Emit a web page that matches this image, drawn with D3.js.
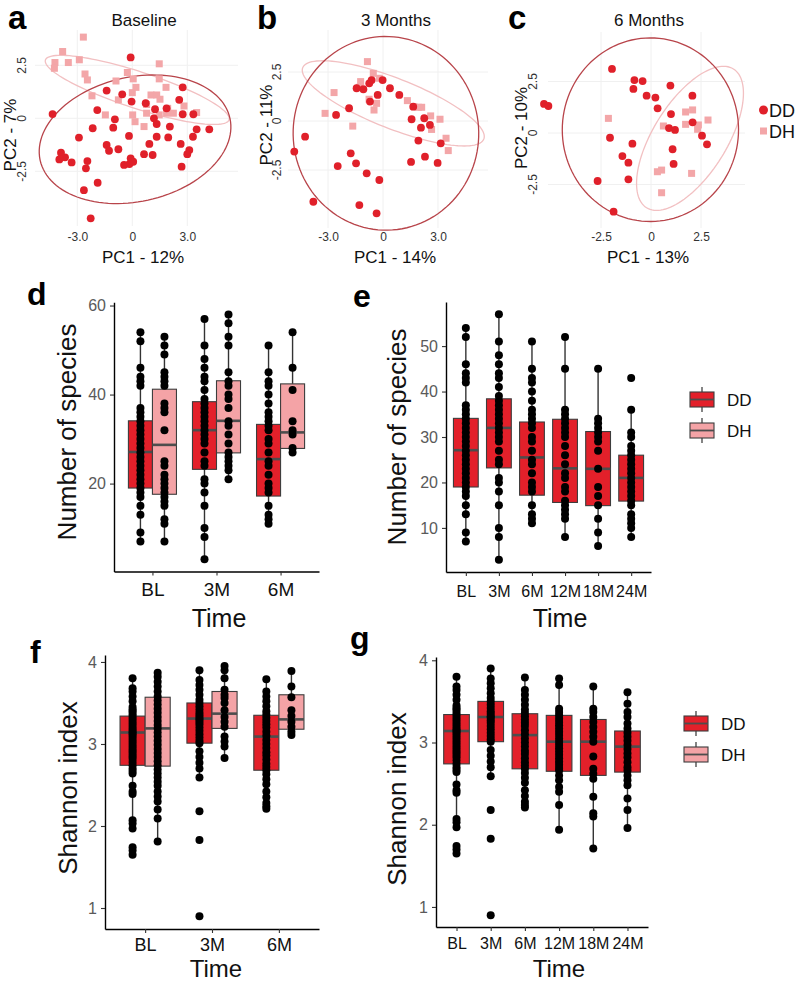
<!DOCTYPE html>
<html><head><meta charset="utf-8">
<script src="https://cdn.jsdelivr.net/npm/d3@7"></script>
<style>body{margin:0;background:#fff}svg{display:block}text{font-family:"Liberation Sans",Arial,Helvetica,sans-serif}</style>
</head><body><svg id="chart" width="800" height="983"></svg>
<script>
// ---------------- DATA ----------------
// PCA scores [PC1, PC2]
const pcaA_DD = [[-0.09,2.87],[-1.40,1.31],[-0.55,1.13],[-0.04,0.79],[0.73,0.71],[1.24,0.43],[1.87,0.47],[2.75,1.46],[2.56,0.87],[2.75,0.19],[3.33,0.19],[-4.35,0.20],[-1.91,0.39],[-0.95,-0.05],[1.18,0.0],[1.33,-0.27],[2.05,-0.39],[3.51,-0.52],[4.20,-0.52],[3.31,-0.87],[2.64,-1.21],[3.11,-1.50],[3.0,-1.69],[2.69,-2.28],[1.96,-0.90],[1.33,-0.87],[0.93,-1.21],[1.11,-1.73],[0.64,-1.69],[-0.18,-0.83],[-1.04,-0.44],[-2.16,-0.47],[-2.91,-0.91],[-1.40,-1.26],[-1.27,-1.53],[-0.76,-1.46],[-0.09,-1.89],[0.05,-2.05],[-0.16,-2.16],[-0.45,-2.20],[-2.45,-2.02],[-2.53,-2.36],[-3.31,-2.08],[-3.67,-1.84],[-3.89,-1.62],[-3.98,-1.94],[-1.89,-3.04],[-2.64,-3.39],[-2.27,-4.72]];
const pcaA_DH = [[-2.67,3.83],[-3.80,3.15],[-4.22,2.63],[-4.25,2.36],[-3.49,2.63],[-2.89,2.76],[-2.58,2.09],[-2.45,1.81],[-0.89,1.76],[-0.27,2.16],[0.05,1.86],[1.47,2.57],[1.47,1.86],[0.20,1.46],[0.0,1.21],[-2.2,1.06],[-0.76,0.87],[1.84,1.46],[1.02,1.10],[1.33,1.10],[1.51,0.90],[0.78,0.65],[1.93,0.47],[2.24,0.24],[2.82,0.58],[3.51,0.27],[0.78,0.24],[0.02,0.16],[0.15,-0.16],[0.64,-0.39],[1.47,0.16],[-1.47,0.16],[1.87,0.24]];
const pcaB_DD = [[-1.44,1.67],[-1.07,1.62],[-0.75,1.92],[-0.62,2.09],[-0.02,2.09],[-0.29,1.33],[-0.71,0.99],[0.38,1.67],[0.89,1.33],[1.65,0.73],[1.56,0.09],[2.25,0.14],[2.07,-0.34],[2.56,-0.20],[1.93,-1.0],[3.15,-1.14],[2.29,-1.82],[1.53,-2.09],[2.98,-2.14],[-1.85,0.65],[-2.56,0.31],[-4.25,-0.80],[-4.84,-1.56],[-1.76,-1.65],[-1.47,-2.16],[-2.47,-2.30],[-0.89,-2.67],[-0.2,-3.01],[-3.80,-4.12],[-1.29,-4.29],[-0.35,-4.71]];
const pcaB_DH = [[-0.85,3.03],[-0.53,2.43],[-0.2,2.18],[-1.22,2.01],[-1.29,1.72],[-2.67,1.45],[-0.76,1.11],[-0.35,0.90],[-0.49,0.56],[1.33,1.04],[1.69,0.73],[1.93,0.70],[2.11,0.70],[2.6,0.26],[3.11,0.09],[2.65,-0.43],[-3.16,0.39],[-1.65,-0.26],[3.44,-0.88],[3.56,-1.51]];
const pcaC_DD = [[-5.35,1.41],[-5.13,1.31],[-1.95,3.11],[-0.83,2.57],[-0.42,2.52],[-0.88,2.14],[-0.22,1.81],[0.22,1.72],[0.33,1.20],[0.97,2.30],[2.07,1.81],[1.0,0.92],[2.08,0.52],[0.9,0.24],[1.2,0.15],[2.55,-0.13],[2.8,-0.55],[1.08,-0.79],[1.13,-1.50],[-2.05,-0.23],[-0.93,-0.52],[-1.43,-1.12],[-1.13,-1.44],[-1.13,-2.25],[-2.67,-2.33],[-1.87,-3.82]];
const pcaC_DH = [[-2.13,0.71],[0.62,0.34],[1.73,1.02],[2.08,1.12],[1.73,0.42],[2.37,0.39],[2.33,0.18],[2.85,0.63],[0.32,-1.88],[0.53,-1.80],[2.03,-1.96],[0.53,-2.90]];
// 95% ellipses: [centerX, centerY, axis1X, axis1Y, axis2X, axis2Y] in PC units
const ellA_DD = [0.15,-0.99,5.18,0.98,0.71,-2.87];
const ellA_DH = [0.27,1.34,5.01,-1.41,-0.31,-0.82];
const ellB_DD = [0.16,-0.63,5.05,0.34,0.36,-4.93];
const ellB_DH = [0.56,0.90,4.94,-1.82,-0.5,-1.19];
const ellC_DD = [-0.03,0.16,4.38,0.49,0.48,-4.43];
const ellC_DH = [1.95,-0.26,2.17,3.37,1.56,-0.94];
const pcaTicksAB = [-3,0,3], pcaLabelsAB = ["-3.0","0","3.0"];
const pcaTicksC = [-2.5,0,2.5], pcaLabelsC = ["-2.5","0","2.5"];
const pcaTicksY = [-2.5,0,2.5], pcaLabelsY = ["-2.5","0","2.5"];

const timesShort = ["BL","3M","6M"];
const timesLong = ["BL","3M","6M","12M","18M","24M"];
const groups = ["DD","DH"];

// Number of species
const speciesDD = [
 [54,52,46,44,43,42,37,36,35,34,33,32,31,30,29,28,27,26,25,24,23,22,21,20,19,18,17,15,13,9,7],
 [57,51,48,46,44,43,41,39,38,37,36,35,34,33,32,31,30,29,27,25,24,21,20,18,15,10,8,3],
 [51,45,43,42,40,38,36,35,34,33,32,30,29,27,25,24,22,20,19,18,15,13,12,11],
 [52,45,36,35,34,33,32,31,30,28,26,24,22,21,19,18,16,15,14,13,12,8],
 [45,34,33,32,31,30,29,27,23,19,17,15,12,9,6],
 [43,36,31,30,28,27,26,25,24,23,22,21,20,19,18,17,16,15,13,12,11,10,8]
];
const speciesDH = [
 [53,51,49,45,44,43,42,38,37,36,32,25,24,22,21,20,19,18,17,16,15,12,11,7],
 [58,56,53,51,45,43,42,40,39,37,34,33,31,29,27,26,25,24,23,21],
 [54,46,41,34,32,31,28,27]
];
// box stats: [lower whisker, Q1, median, Q3, upper whisker]
const speciesDDStats = [[7,19.0,27.1,34.1,54],[3,23.2,32.0,38.4,57],[11,17.2,25.5,33.3,51],[8,15.6,23.1,33.9,52],[6,14.9,23.0,31.2,45],[8,15.9,21.0,26.0,36]];
const speciesDHStats = [[7,17.6,28.7,41.2,53],[21,26.9,34.1,43.1,58],[27,27.9,31.5,42.4,54]];

// Shannon index
const shannonDD = [
 [3.80,3.68,3.64,3.58,3.52,3.45,3.42,3.40,3.37,3.34,3.31,3.28,3.25,3.22,3.19,3.16,3.14,3.12,3.09,3.06,3.03,3.00,2.97,2.94,2.91,2.88,2.85,2.82,2.78,2.74,2.70,2.67,2.64,2.49,2.42,2.39,2.07,2.03,1.97,1.74,1.70,1.65],
 [3.90,3.78,3.72,3.66,3.60,3.54,3.50,3.46,3.42,3.38,3.35,3.32,3.30,3.27,3.24,3.20,3.16,3.12,3.08,3.04,3.01,2.91,2.84,2.77,2.70,2.59,2.18,1.83,0.90],
 [3.79,3.64,3.58,3.52,3.46,3.40,3.36,3.32,3.28,3.24,3.20,3.15,3.10,3.05,3.00,2.95,2.90,2.86,2.81,2.76,2.72,2.68,2.63,2.57,2.51,2.42,2.35,2.28,2.24,2.21],
 [3.78,3.70,3.41,3.37,3.33,3.29,3.25,3.21,3.17,3.13,3.09,3.05,3.01,2.97,2.93,2.89,2.85,2.81,2.77,2.73,2.69,2.66,2.60,2.54,2.46,2.40,2.24,1.94],
 [3.68,3.41,3.37,3.31,3.25,3.19,3.13,3.07,3.01,2.83,2.68,2.62,2.56,2.34,2.14,2.10,1.71],
 [3.61,3.47,3.37,3.31,3.23,3.17,3.12,3.07,3.02,2.97,2.92,2.87,2.82,2.76,2.70,2.66,2.60,2.54,2.48,2.32,2.18,1.96]
];
const shannonDH = [
 [3.87,3.82,3.76,3.70,3.64,3.58,3.53,3.48,3.43,3.38,3.33,3.28,3.23,3.19,3.14,3.09,3.04,2.99,2.94,2.89,2.84,2.79,2.74,2.69,2.64,2.59,2.54,2.49,2.42,2.36,2.30,2.20,2.09,1.81],
 [3.95,3.90,3.80,3.66,3.60,3.56,3.50,3.41,3.33,3.27,3.21,3.09,3.03,2.97,2.83],
 [3.89,3.70,3.57,3.41,3.34,3.27,3.21,3.15,3.11]
];
const shannonDDStats = [[1.97,2.74,3.14,3.34,3.80],[2.59,3.01,3.31,3.50,3.90],[2.21,2.68,3.09,3.35,3.79],[1.94,2.65,3.01,3.33,3.78],[1.71,2.60,3.01,3.28,3.68],[1.96,2.64,2.95,3.14,3.61]];
const shannonDHStats = [[1.81,2.73,3.19,3.57,3.87],[2.83,3.19,3.37,3.64,3.95],[3.11,3.18,3.30,3.60,3.89]];

// ---------------- STYLE ----------------
const RED = "#e3202a", PINK = "#f4a3a6";
const PT_DD = "#e0202a", PT_DH = "#f3a6a8";
const ELL_DD = "#b8444a", ELL_DH = "#f2c0c2";

const svg = d3.select("#chart");

function letter(t, x, y, size) {
  svg.append("text").attr("x", x).attr("y", y).attr("font-size", size).attr("font-weight", "bold").attr("fill", "#000").text(t);
}

function ellipsePath(e, x, y) {
  const [cx, cy, ux, uy, vx, vy] = e;
  const pts = d3.range(0, 360, 3).map(a => {
    const t = a * Math.PI / 180;
    return [x(cx + ux * Math.cos(t) + vx * Math.sin(t)), y(cy + uy * Math.cos(t) + vy * Math.sin(t))];
  });
  return d3.line()(pts) + "Z";
}

function pcaPanel(p) {
  const g = svg.append("g");
  const x = d3.scaleLinear().domain([0, 1]).range([p.x0, p.x0 + p.kx]);
  const y = d3.scaleLinear().domain([0, 1]).range([p.y0, p.y0 - p.ky]);
  g.selectAll(".gx").data(p.xTicks).join("line")
    .attr("x1", d => x(d)).attr("x2", d => x(d)).attr("y1", p.top).attr("y2", p.bottom)
    .attr("stroke", "#f0f0f0").attr("stroke-width", 1);
  g.selectAll(".gy").data(pcaTicksY).join("line")
    .attr("y1", d => y(d)).attr("y2", d => y(d)).attr("x1", p.left).attr("x2", p.right)
    .attr("stroke", "#f0f0f0").attr("stroke-width", 1);
  g.append("path").attr("d", ellipsePath(p.ellDH, x, y)).attr("fill", "none").attr("stroke", ELL_DH).attr("stroke-width", 1.3);
  g.append("path").attr("d", ellipsePath(p.ellDD, x, y)).attr("fill", "none").attr("stroke", ELL_DD).attr("stroke-width", 1.3);
  g.selectAll(".dh").data(p.dh).join("rect")
    .attr("x", d => x(d[0]) - 3.5).attr("y", d => y(d[1]) - 3.5).attr("width", 7).attr("height", 7)
    .attr("fill", PT_DH);
  g.selectAll(".dd").data(p.dd).join("circle")
    .attr("cx", d => x(d[0])).attr("cy", d => y(d[1])).attr("r", 3.9).attr("fill", PT_DD);
  const ax = g.append("g").attr("transform", `translate(0,${p.xAxisY})`)
    .call(d3.axisBottom(x).tickValues(p.xTicks).tickFormat((d, i) => p.xLabels[i]).tickSize(0).tickPadding(0));
  ax.select(".domain").remove();
  ax.selectAll("text").attr("font-size", 12).attr("fill", "#333").attr("font-family", null);
  g.selectAll(".yl").data(pcaTicksY).join("text")
    .attr("transform", d => `translate(${p.yTickX},${y(d)}) rotate(-90)`)
    .attr("text-anchor", "middle").attr("dy", "0.35em").attr("font-size", 12).attr("fill", "#333")
    .text((d, i) => pcaLabelsY[i]);
  g.append("text").attr("x", p.titleX).attr("y", 26).attr("text-anchor", "middle").attr("font-size", 17).attr("fill", "#111").text(p.title);
  g.append("text").attr("x", p.xTitleX).attr("y", 263).attr("text-anchor", "middle").attr("font-size", 17).attr("fill", "#111").text(p.xTitle);
  g.append("text").attr("transform", `translate(${p.yTitleX},${p.yTitleY}) rotate(-90)`).attr("text-anchor", "middle")
    .attr("dy", "0.35em").attr("font-size", 17).attr("fill", "#111").text(p.yTitle);
}

pcaPanel({x0:132.3,kx:18.33,y0:118.3,ky:21.2,left:35,right:238,top:30,bottom:226,xTicks:pcaTicksAB,xLabels:pcaLabelsAB,
  dd:pcaA_DD,dh:pcaA_DH,ellDD:ellA_DD,ellDH:ellA_DH,xAxisY:232.5,yTickX:22,title:"Baseline",titleX:144,
  xTitle:"PC1 - 12%",xTitleX:143,yTitle:"PC2 - 7%",yTitleX:10,yTitleY:135});
pcaPanel({x0:383,kx:18.33,y0:121,ky:19.6,left:288,right:488,top:30,bottom:228,xTicks:pcaTicksAB,xLabels:pcaLabelsAB,
  dd:pcaB_DD,dh:pcaB_DH,ellDD:ellB_DD,ellDH:ellB_DH,xAxisY:232.5,yTickX:277,title:"3 Months",titleX:396,
  xTitle:"PC1 - 14%",xTitleX:395,yTitle:"PC2 - 11%",yTitleX:266,yTitleY:125});
pcaPanel({x0:651,kx:20,y0:133,ky:20.6,left:548,right:745,top:32,bottom:228,xTicks:pcaTicksC,xLabels:pcaLabelsC,
  dd:pcaC_DD,dh:pcaC_DH,ellDD:ellC_DD,ellDH:ellC_DH,xAxisY:232.5,yTickX:533,title:"6 Months",titleX:649,
  xTitle:"PC1 - 13%",xTitleX:648,yTitle:"PC2 - 10%",yTitleX:521,yTitleY:128});

// PCA legend
svg.append("circle").attr("cx", 763.5).attr("cy", 110).attr("r", 4.5).attr("fill", PT_DD);
svg.append("text").attr("x", 769).attr("y", 116.5).attr("font-size", 18).attr("fill", "#111").text(groups[0]);
svg.append("rect").attr("x", 760).attr("y", 127.5).attr("width", 7).attr("height", 7).attr("fill", PT_DH);
svg.append("text").attr("x", 769).attr("y", 137.5).attr("font-size", 18).attr("fill", "#111").text(groups[1]);

letter("a", 8, 29, 33); letter("b", 257, 29, 33); letter("c", 508, 29, 33);

// ---------------- BOX PANELS ----------------
function boxPanel(p) {
  const n = p.cats.length;
  const x = d3.scaleLinear().domain([0.4, n + 0.6]).range([p.xl, p.xr]);
  const y = d3.scaleLinear().domain(p.yDomain).range([p.yb, p.yt]);
  const unit = x(1) - x(0);
  const g = svg.append("g");
  const gy = g.append("g").attr("transform", `translate(${p.xl},0)`)
    .call(d3.axisLeft(y).tickValues(p.yTicks).tickFormat(d3.format("d")).tickSize(4).tickSizeOuter(0).tickPadding(4));
  const gx = g.append("g").attr("transform", `translate(0,${p.yb})`)
    .call(d3.axisBottom(x).tickValues(d3.range(1, n + 1)).tickFormat(i => p.cats[i - 1]).tickSize(4).tickSizeOuter(0).tickPadding(p.xPad));
  [gy, gx].forEach(a => {
    a.select(".domain").attr("stroke", "#000").attr("stroke-width", 1.4);
    a.selectAll(".tick line").attr("stroke", "#333").attr("stroke-width", 1.1);
    a.selectAll("text").attr("font-family", null);
  });
  gy.selectAll("text").attr("font-size", 16).attr("fill", "#5a5a5a");
  gx.selectAll("text").attr("font-size", p.xFont).attr("fill", "#111");
  const boxes = g.append("g"), pts = g.append("g");
  p.series.forEach(s => {
    const w = s.width * unit;
    s.stats.forEach((st, i) => {
      const cx = x(i + 1 + s.offset);
      const [lo, q1, md, q3, hi] = st;
      boxes.append("line").attr("x1", cx).attr("x2", cx).attr("y1", y(hi)).attr("y2", y(q3)).attr("stroke", "#333").attr("stroke-width", 1.4);
      boxes.append("line").attr("x1", cx).attr("x2", cx).attr("y1", y(q1)).attr("y2", y(lo)).attr("stroke", "#333").attr("stroke-width", 1.4);
      boxes.append("rect").attr("x", cx - w / 2).attr("y", y(q3)).attr("width", w).attr("height", y(q1) - y(q3))
        .attr("fill", s.color).attr("stroke", "#3d3d3d").attr("stroke-width", 1.1);
      boxes.append("line").attr("x1", cx - w / 2).attr("x2", cx + w / 2).attr("y1", y(md)).attr("y2", y(md))
        .attr("stroke", "#4d4d4d").attr("stroke-width", 2.6);
    });
    s.values.forEach((arr, i) => {
      pts.selectAll(null).data(arr).join("circle")
        .attr("cx", x(i + 1 + s.offset)).attr("cy", d => y(d)).attr("r", 4).attr("fill", "#000");
    });
  });
  g.append("text").attr("transform", `translate(${p.yTitleX},${p.yTitleY}) rotate(-90)`).attr("text-anchor", "middle")
    .attr("font-size", 26).attr("fill", "#111").text(p.yTitle);
  g.append("text").attr("x", p.xTitleX).attr("y", p.xTitleY).attr("text-anchor", "middle")
    .attr("font-size", p.tFont).attr("fill", "#111").text("Time");
}

function boxLegend(x0, y0) {
  const cols = [RED, PINK];
  groups.forEach((gname, i) => {
    const top = y0 + i * 31;
    const cx = x0 + 12;
    svg.append("line").attr("x1", cx).attr("x2", cx).attr("y1", top - 5).attr("y2", top + 20).attr("stroke", "#333").attr("stroke-width", 1.2);
    svg.append("rect").attr("x", x0).attr("y", top).attr("width", 24).attr("height", 15).attr("fill", cols[i]).attr("stroke", "#3d3d3d").attr("stroke-width", 1.1);
    svg.append("line").attr("x1", x0).attr("x2", x0 + 24).attr("y1", top + 7.5).attr("y2", top + 7.5).attr("stroke", "#4d4d4d").attr("stroke-width", 1.8);
    svg.append("text").attr("x", x0 + 37).attr("y", top + 13.5).attr("font-size", 17).attr("fill", "#111").text(gname);
  });
}

boxPanel({cats:timesShort,xl:114,xr:319,yDomain:[0.25,60.75],yb:571.5,yt:302.2,yTicks:[20,40,60],xPad:7.5,xFont:19,
  series:[{stats:speciesDDStats.slice(0,3),values:speciesDD.slice(0,3),color:RED,offset:-0.1875,width:0.375},
          {stats:speciesDHStats,values:speciesDH,color:PINK,offset:0.1875,width:0.375}],
  yTitle:"Number of species",yTitleX:76,yTitleY:432,xTitleX:219,xTitleY:627,tFont:25});
boxPanel({cats:timesLong,xl:446,xr:651,yDomain:[0.3,59.7],yb:572,yt:302,yTicks:[10,20,30,40,50],xPad:9.5,xFont:16,
  series:[{stats:speciesDDStats,values:speciesDD,color:RED,offset:0,width:0.75}],
  yTitle:"Number of species",yTitleX:406,yTitleY:437,xTitleX:560,xTitleY:627,tFont:25});
boxPanel({cats:timesShort,xl:105,xr:319,yDomain:[0.744,4.085],yb:929,yt:655,yTicks:[1,2,3,4],xPad:5,xFont:18,
  series:[{stats:shannonDDStats.slice(0,3),values:shannonDD.slice(0,3),color:RED,offset:-0.1875,width:0.375},
          {stats:shannonDHStats,values:shannonDH,color:PINK,offset:0.1875,width:0.375}],
  yTitle:"Shannon index",yTitleX:77,yTitleY:788,xTitleX:216,xTitleY:977,tFont:24});
boxPanel({cats:timesLong,xl:436,xr:648,yDomain:[0.756,4.04],yb:927,yt:657,yTicks:[1,2,3,4],xPad:7,xFont:16,
  series:[{stats:shannonDDStats,values:shannonDD,color:RED,offset:0,width:0.75}],
  yTitle:"Shannon index",yTitleX:406,yTitleY:799,xTitleX:559,xTitleY:977,tFont:24});

boxLegend(690, 392);
boxLegend(684, 716);

letter("d", 27, 305, 32); letter("e", 353, 307, 32); letter("f", 30, 663, 32); letter("g", 350, 649, 32);
</script></body></html>
